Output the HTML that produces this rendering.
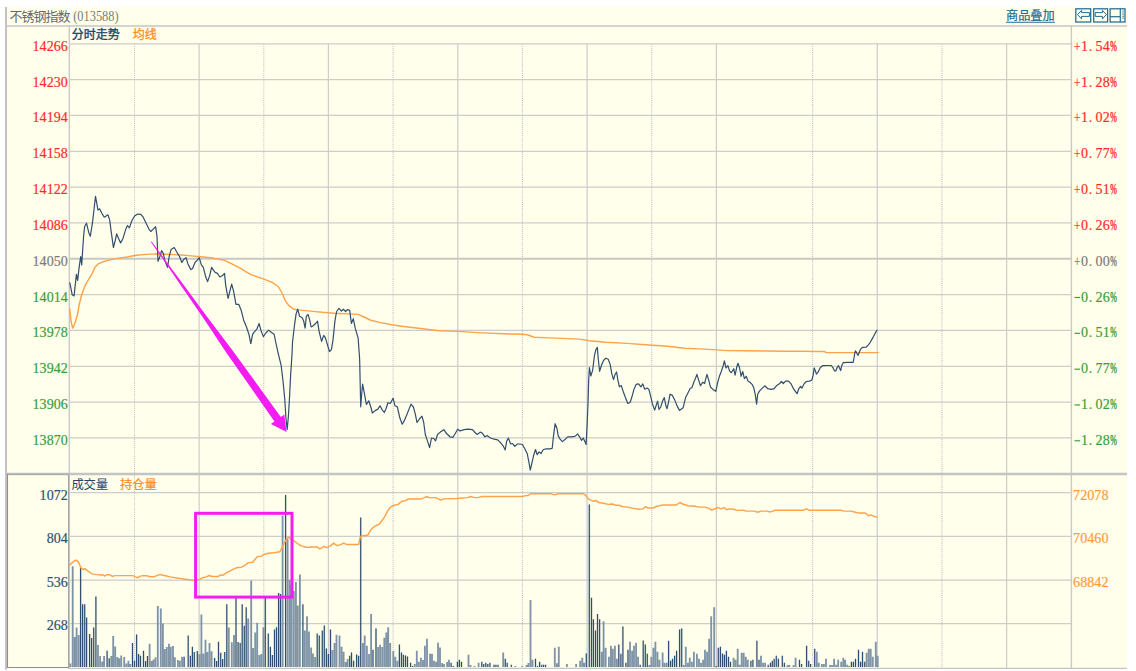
<!DOCTYPE html>
<html><head><meta charset="utf-8"><title>chart</title>
<style>html,body{margin:0;padding:0;background:#fff;overflow:hidden}body{width:1136px;height:671px;font-family:"Liberation Serif",serif}</style>
</head><body>
<svg width="1136" height="671" viewBox="0 0 1136 671" style="display:block">
<rect x="0" y="0" width="1136" height="671" fill="#ffffff"/>
<rect x="6" y="7" width="1121" height="662" fill="#FFFFEC"/>
<rect x="5.1" y="7" width="1.9" height="662.7" fill="#c5bdc1"/>
<line x1="7" y1="26.0" x2="1127" y2="26.0" stroke="#d3d3d0" stroke-width="1.8"/>
<line x1="69.9" y1="43.8" x2="1071.4" y2="43.8" stroke="#cdcdcb" stroke-width="1.25"/>
<line x1="69.9" y1="79.63" x2="1071.4" y2="79.63" stroke="#cdcdcb" stroke-width="1.25"/>
<line x1="69.9" y1="115.46" x2="1071.4" y2="115.46" stroke="#cdcdcb" stroke-width="1.25"/>
<line x1="69.9" y1="151.29" x2="1071.4" y2="151.29" stroke="#cdcdcb" stroke-width="1.25"/>
<line x1="69.9" y1="187.12" x2="1071.4" y2="187.12" stroke="#cdcdcb" stroke-width="1.25"/>
<line x1="69.9" y1="222.95" x2="1071.4" y2="222.95" stroke="#cdcdcb" stroke-width="1.25"/>
<line x1="69.9" y1="258.78" x2="1071.4" y2="258.78" stroke="#c8c8c6" stroke-width="1.9"/>
<line x1="69.9" y1="294.61" x2="1071.4" y2="294.61" stroke="#cdcdcb" stroke-width="1.25"/>
<line x1="69.9" y1="330.44" x2="1071.4" y2="330.44" stroke="#cdcdcb" stroke-width="1.25"/>
<line x1="69.9" y1="366.27" x2="1071.4" y2="366.27" stroke="#cdcdcb" stroke-width="1.25"/>
<line x1="69.9" y1="402.09999999999997" x2="1071.4" y2="402.09999999999997" stroke="#cdcdcb" stroke-width="1.25"/>
<line x1="69.9" y1="437.93" x2="1071.4" y2="437.93" stroke="#cdcdcb" stroke-width="1.25"/>
<line x1="69.9" y1="492.7" x2="1071.4" y2="492.7" stroke="#cdcdcb" stroke-width="1.25"/>
<line x1="69.9" y1="536.3" x2="1071.4" y2="536.3" stroke="#cdcdcb" stroke-width="1.25"/>
<line x1="69.9" y1="580.2" x2="1071.4" y2="580.2" stroke="#cdcdcb" stroke-width="1.25"/>
<line x1="69.9" y1="623.6" x2="1071.4" y2="623.6" stroke="#cdcdcb" stroke-width="1.25"/>
<line x1="134.5" y1="43.8" x2="134.5" y2="668.3" stroke="#c2c2ca" stroke-width="1.1" stroke-dasharray="1.04 1.04"/>
<line x1="199.1" y1="43.8" x2="199.1" y2="668.3" stroke="#cdcdcb" stroke-width="1.25"/>
<line x1="263.8" y1="43.8" x2="263.8" y2="668.3" stroke="#c2c2ca" stroke-width="1.1" stroke-dasharray="1.04 1.04"/>
<line x1="328.4" y1="43.8" x2="328.4" y2="668.3" stroke="#cdcdcb" stroke-width="1.25"/>
<line x1="393.1" y1="43.8" x2="393.1" y2="668.3" stroke="#c2c2ca" stroke-width="1.1" stroke-dasharray="1.04 1.04"/>
<line x1="457.8" y1="43.8" x2="457.8" y2="668.3" stroke="#cdcdcb" stroke-width="1.25"/>
<line x1="522.4" y1="43.8" x2="522.4" y2="668.3" stroke="#c2c2ca" stroke-width="1.1" stroke-dasharray="1.04 1.04"/>
<line x1="587.1" y1="43.8" x2="587.1" y2="668.3" stroke="#cdcdcb" stroke-width="1.25"/>
<line x1="651.7" y1="43.8" x2="651.7" y2="668.3" stroke="#c2c2ca" stroke-width="1.1" stroke-dasharray="1.04 1.04"/>
<line x1="716.4" y1="43.8" x2="716.4" y2="668.3" stroke="#cdcdcb" stroke-width="1.25"/>
<line x1="812.6" y1="43.8" x2="812.6" y2="668.3" stroke="#c2c2ca" stroke-width="1.1" stroke-dasharray="1.04 1.04"/>
<line x1="877.3" y1="43.8" x2="877.3" y2="668.3" stroke="#cdcdcb" stroke-width="1.25"/>
<line x1="941.9" y1="43.8" x2="941.9" y2="668.3" stroke="#c2c2ca" stroke-width="1.1" stroke-dasharray="1.04 1.04"/>
<line x1="1006.6" y1="43.8" x2="1006.6" y2="668.3" stroke="#cdcdcb" stroke-width="1.25"/>
<line x1="69.3" y1="26.0" x2="69.3" y2="668.3" stroke="#c9c9c8" stroke-width="1.4"/>
<line x1="1071.4" y1="26.0" x2="1071.4" y2="668.3" stroke="#c9c9c8" stroke-width="1.4"/>
<line x1="7" y1="474.0" x2="1127" y2="474.0" stroke="#c4c4c4" stroke-width="2.6"/>
<line x1="68" y1="668.3" x2="1127" y2="668.3" stroke="#c6c6c4" stroke-width="1.2"/>
<path d="M7.5 473.4 V667.5 H69" fill="none" stroke="#8e8e8e" stroke-width="1.1"/>
<path d="M7.5 474.2 H68.6 V667.5" fill="none" stroke="#a4a4a4" stroke-width="1.1"/>
<text x="9.4" y="20.7" font-family="'Liberation Sans', 'Noto Sans CJK SC', sans-serif" font-size="13" fill="#686868" text-anchor="start" textLength="61.2" lengthAdjust="spacing">不锈钢指数</text>
<text x="73.2" y="20.7" font-family="'Liberation Serif', serif" font-size="14" font-weight="normal" fill="#7c7c7c" text-anchor="start" textLength="45.4" lengthAdjust="spacingAndGlyphs">(013588)</text>
<text x="1006" y="20.2" font-family="'Liberation Sans', 'Noto Sans CJK SC', sans-serif" font-size="12.2" fill="#1f6b96" stroke="#1f6b96" stroke-width="0.2" text-anchor="start">商品叠加</text>
<line x1="1006" y1="22.3" x2="1055" y2="22.3" stroke="#1f6b96" stroke-width="1.1"/>
<text x="71.8" y="39.2" font-family="'Liberation Sans', 'Noto Sans CJK SC', sans-serif" font-size="12" fill="#234668" stroke="#234668" stroke-width="0.35" text-anchor="start">分时走势</text>
<text x="132.7" y="39.2" font-family="'Liberation Sans', 'Noto Sans CJK SC', sans-serif" font-size="12" fill="#ff8c1a" stroke="#ff8c1a" stroke-width="0.3" text-anchor="start">均线</text>
<text x="71.4" y="488.5" font-family="'Liberation Sans', 'Noto Sans CJK SC', sans-serif" font-size="12.4" fill="#234668" text-anchor="start" textLength="36.7" lengthAdjust="spacing">成交量</text>
<text x="120" y="488.5" font-family="'Liberation Sans', 'Noto Sans CJK SC', sans-serif" font-size="12.4" fill="#ff8c1a" stroke="#ff8c1a" stroke-width="0.2" text-anchor="start" textLength="36.9" lengthAdjust="spacing">持仓量</text>
<rect x="1075.8" y="8.8" width="14.9" height="13.2" fill="none" stroke="#226a94" stroke-width="1.25"/>
<rect x="1093.7" y="8.8" width="13.9" height="13.2" fill="none" stroke="#226a94" stroke-width="1.25"/>
<rect x="1110.1000000000001" y="8.8" width="14.9" height="13.2" fill="none" stroke="#226a94" stroke-width="1.25"/>
<path d="M1077.5 14.6 L1081.6 10.4 L1081.6 12.6 L1089.4 12.6 L1089.4 16.4 L1081.6 16.4 L1081.6 18.8 Z" fill="none" stroke="#226a94" stroke-width="1.0" stroke-linejoin="round"/>
<path d="M1106.4 14.6 L1102.4 10.4 L1102.4 12.6 L1095.2 12.6 L1095.2 16.4 L1102.4 16.4 L1102.4 18.8 Z" fill="none" stroke="#226a94" stroke-width="1.0" stroke-linejoin="round"/>
<line x1="1110" y1="16.7" x2="1120.0" y2="16.7" stroke="#226a94" stroke-width="1.2"/>
<line x1="1120.3" y1="9" x2="1120.3" y2="22" stroke="#226a94" stroke-width="1.2"/>
<rect x="1122.4" y="10.6" width="1.3" height="1.0" fill="#226a94"/>
<rect x="1122.4" y="12.5" width="1.3" height="1.0" fill="#226a94"/>
<rect x="1122.4" y="14.3" width="1.3" height="1.0" fill="#226a94"/>
<rect x="1122.4" y="16.2" width="1.3" height="1.0" fill="#226a94"/>
<rect x="1122.4" y="17.7" width="1.3" height="1.0" fill="#226a94"/>
<text transform="translate(35.95,50.7) scale(0.99,1)" x="0" y="0" font-family="'Liberation Serif', serif" font-size="14.2" fill="#ff2a2a" stroke="#ff2a2a" stroke-width="0.18" text-anchor="middle">1</text>
<text transform="translate(43.05,50.7) scale(0.99,1)" x="0" y="0" font-family="'Liberation Serif', serif" font-size="14.2" fill="#ff2a2a" stroke="#ff2a2a" stroke-width="0.18" text-anchor="middle">4</text>
<text transform="translate(50.15,50.7) scale(0.99,1)" x="0" y="0" font-family="'Liberation Serif', serif" font-size="14.2" fill="#ff2a2a" stroke="#ff2a2a" stroke-width="0.18" text-anchor="middle">2</text>
<text transform="translate(57.25,50.7) scale(0.99,1)" x="0" y="0" font-family="'Liberation Serif', serif" font-size="14.2" fill="#ff2a2a" stroke="#ff2a2a" stroke-width="0.18" text-anchor="middle">6</text>
<text transform="translate(64.35,50.7) scale(0.99,1)" x="0" y="0" font-family="'Liberation Serif', serif" font-size="14.2" fill="#ff2a2a" stroke="#ff2a2a" stroke-width="0.18" text-anchor="middle">6</text>
<text transform="translate(1077.22,50.7) scale(0.8,1)" x="0" y="0" font-family="'Liberation Serif', serif" font-size="14.2" fill="#ff2a2a" stroke="#ff2a2a" stroke-width="0.18" text-anchor="middle">+</text>
<text transform="translate(1084.47,50.7) scale(0.99,1)" x="0" y="0" font-family="'Liberation Serif', serif" font-size="14.2" fill="#ff2a2a" stroke="#ff2a2a" stroke-width="0.18" text-anchor="middle">1</text>
<text transform="translate(1090.50,50.7) scale(0.99,1)" x="0" y="0" font-family="'Liberation Serif', serif" font-size="14.2" fill="#ff2a2a" stroke="#ff2a2a" stroke-width="0.18" text-anchor="middle">.</text>
<text transform="translate(1098.97,50.7) scale(0.99,1)" x="0" y="0" font-family="'Liberation Serif', serif" font-size="14.2" fill="#ff2a2a" stroke="#ff2a2a" stroke-width="0.18" text-anchor="middle">5</text>
<text transform="translate(1106.22,50.7) scale(0.99,1)" x="0" y="0" font-family="'Liberation Serif', serif" font-size="14.2" fill="#ff2a2a" stroke="#ff2a2a" stroke-width="0.18" text-anchor="middle">4</text>
<text transform="translate(1113.47,50.7) scale(0.56,1)" x="0" y="0" font-family="'Liberation Serif', serif" font-size="14.2" fill="#ff2a2a" stroke="#ff2a2a" stroke-width="0.45" text-anchor="middle">%</text>
<text transform="translate(35.95,86.5) scale(0.99,1)" x="0" y="0" font-family="'Liberation Serif', serif" font-size="14.2" fill="#ff2a2a" stroke="#ff2a2a" stroke-width="0.18" text-anchor="middle">1</text>
<text transform="translate(43.05,86.5) scale(0.99,1)" x="0" y="0" font-family="'Liberation Serif', serif" font-size="14.2" fill="#ff2a2a" stroke="#ff2a2a" stroke-width="0.18" text-anchor="middle">4</text>
<text transform="translate(50.15,86.5) scale(0.99,1)" x="0" y="0" font-family="'Liberation Serif', serif" font-size="14.2" fill="#ff2a2a" stroke="#ff2a2a" stroke-width="0.18" text-anchor="middle">2</text>
<text transform="translate(57.25,86.5) scale(0.99,1)" x="0" y="0" font-family="'Liberation Serif', serif" font-size="14.2" fill="#ff2a2a" stroke="#ff2a2a" stroke-width="0.18" text-anchor="middle">3</text>
<text transform="translate(64.35,86.5) scale(0.99,1)" x="0" y="0" font-family="'Liberation Serif', serif" font-size="14.2" fill="#ff2a2a" stroke="#ff2a2a" stroke-width="0.18" text-anchor="middle">0</text>
<text transform="translate(1077.22,86.5) scale(0.8,1)" x="0" y="0" font-family="'Liberation Serif', serif" font-size="14.2" fill="#ff2a2a" stroke="#ff2a2a" stroke-width="0.18" text-anchor="middle">+</text>
<text transform="translate(1084.47,86.5) scale(0.99,1)" x="0" y="0" font-family="'Liberation Serif', serif" font-size="14.2" fill="#ff2a2a" stroke="#ff2a2a" stroke-width="0.18" text-anchor="middle">1</text>
<text transform="translate(1090.50,86.5) scale(0.99,1)" x="0" y="0" font-family="'Liberation Serif', serif" font-size="14.2" fill="#ff2a2a" stroke="#ff2a2a" stroke-width="0.18" text-anchor="middle">.</text>
<text transform="translate(1098.97,86.5) scale(0.99,1)" x="0" y="0" font-family="'Liberation Serif', serif" font-size="14.2" fill="#ff2a2a" stroke="#ff2a2a" stroke-width="0.18" text-anchor="middle">2</text>
<text transform="translate(1106.22,86.5) scale(0.99,1)" x="0" y="0" font-family="'Liberation Serif', serif" font-size="14.2" fill="#ff2a2a" stroke="#ff2a2a" stroke-width="0.18" text-anchor="middle">8</text>
<text transform="translate(1113.47,86.5) scale(0.56,1)" x="0" y="0" font-family="'Liberation Serif', serif" font-size="14.2" fill="#ff2a2a" stroke="#ff2a2a" stroke-width="0.45" text-anchor="middle">%</text>
<text transform="translate(35.95,122.4) scale(0.99,1)" x="0" y="0" font-family="'Liberation Serif', serif" font-size="14.2" fill="#ff2a2a" stroke="#ff2a2a" stroke-width="0.18" text-anchor="middle">1</text>
<text transform="translate(43.05,122.4) scale(0.99,1)" x="0" y="0" font-family="'Liberation Serif', serif" font-size="14.2" fill="#ff2a2a" stroke="#ff2a2a" stroke-width="0.18" text-anchor="middle">4</text>
<text transform="translate(50.15,122.4) scale(0.99,1)" x="0" y="0" font-family="'Liberation Serif', serif" font-size="14.2" fill="#ff2a2a" stroke="#ff2a2a" stroke-width="0.18" text-anchor="middle">1</text>
<text transform="translate(57.25,122.4) scale(0.99,1)" x="0" y="0" font-family="'Liberation Serif', serif" font-size="14.2" fill="#ff2a2a" stroke="#ff2a2a" stroke-width="0.18" text-anchor="middle">9</text>
<text transform="translate(64.35,122.4) scale(0.99,1)" x="0" y="0" font-family="'Liberation Serif', serif" font-size="14.2" fill="#ff2a2a" stroke="#ff2a2a" stroke-width="0.18" text-anchor="middle">4</text>
<text transform="translate(1077.22,122.4) scale(0.8,1)" x="0" y="0" font-family="'Liberation Serif', serif" font-size="14.2" fill="#ff2a2a" stroke="#ff2a2a" stroke-width="0.18" text-anchor="middle">+</text>
<text transform="translate(1084.47,122.4) scale(0.99,1)" x="0" y="0" font-family="'Liberation Serif', serif" font-size="14.2" fill="#ff2a2a" stroke="#ff2a2a" stroke-width="0.18" text-anchor="middle">1</text>
<text transform="translate(1090.50,122.4) scale(0.99,1)" x="0" y="0" font-family="'Liberation Serif', serif" font-size="14.2" fill="#ff2a2a" stroke="#ff2a2a" stroke-width="0.18" text-anchor="middle">.</text>
<text transform="translate(1098.97,122.4) scale(0.99,1)" x="0" y="0" font-family="'Liberation Serif', serif" font-size="14.2" fill="#ff2a2a" stroke="#ff2a2a" stroke-width="0.18" text-anchor="middle">0</text>
<text transform="translate(1106.22,122.4) scale(0.99,1)" x="0" y="0" font-family="'Liberation Serif', serif" font-size="14.2" fill="#ff2a2a" stroke="#ff2a2a" stroke-width="0.18" text-anchor="middle">2</text>
<text transform="translate(1113.47,122.4) scale(0.56,1)" x="0" y="0" font-family="'Liberation Serif', serif" font-size="14.2" fill="#ff2a2a" stroke="#ff2a2a" stroke-width="0.45" text-anchor="middle">%</text>
<text transform="translate(35.95,158.2) scale(0.99,1)" x="0" y="0" font-family="'Liberation Serif', serif" font-size="14.2" fill="#ff2a2a" stroke="#ff2a2a" stroke-width="0.18" text-anchor="middle">1</text>
<text transform="translate(43.05,158.2) scale(0.99,1)" x="0" y="0" font-family="'Liberation Serif', serif" font-size="14.2" fill="#ff2a2a" stroke="#ff2a2a" stroke-width="0.18" text-anchor="middle">4</text>
<text transform="translate(50.15,158.2) scale(0.99,1)" x="0" y="0" font-family="'Liberation Serif', serif" font-size="14.2" fill="#ff2a2a" stroke="#ff2a2a" stroke-width="0.18" text-anchor="middle">1</text>
<text transform="translate(57.25,158.2) scale(0.99,1)" x="0" y="0" font-family="'Liberation Serif', serif" font-size="14.2" fill="#ff2a2a" stroke="#ff2a2a" stroke-width="0.18" text-anchor="middle">5</text>
<text transform="translate(64.35,158.2) scale(0.99,1)" x="0" y="0" font-family="'Liberation Serif', serif" font-size="14.2" fill="#ff2a2a" stroke="#ff2a2a" stroke-width="0.18" text-anchor="middle">8</text>
<text transform="translate(1077.22,158.2) scale(0.8,1)" x="0" y="0" font-family="'Liberation Serif', serif" font-size="14.2" fill="#ff2a2a" stroke="#ff2a2a" stroke-width="0.18" text-anchor="middle">+</text>
<text transform="translate(1084.47,158.2) scale(0.99,1)" x="0" y="0" font-family="'Liberation Serif', serif" font-size="14.2" fill="#ff2a2a" stroke="#ff2a2a" stroke-width="0.18" text-anchor="middle">0</text>
<text transform="translate(1090.50,158.2) scale(0.99,1)" x="0" y="0" font-family="'Liberation Serif', serif" font-size="14.2" fill="#ff2a2a" stroke="#ff2a2a" stroke-width="0.18" text-anchor="middle">.</text>
<text transform="translate(1098.97,158.2) scale(0.99,1)" x="0" y="0" font-family="'Liberation Serif', serif" font-size="14.2" fill="#ff2a2a" stroke="#ff2a2a" stroke-width="0.18" text-anchor="middle">7</text>
<text transform="translate(1106.22,158.2) scale(0.99,1)" x="0" y="0" font-family="'Liberation Serif', serif" font-size="14.2" fill="#ff2a2a" stroke="#ff2a2a" stroke-width="0.18" text-anchor="middle">7</text>
<text transform="translate(1113.47,158.2) scale(0.56,1)" x="0" y="0" font-family="'Liberation Serif', serif" font-size="14.2" fill="#ff2a2a" stroke="#ff2a2a" stroke-width="0.45" text-anchor="middle">%</text>
<text transform="translate(35.95,194.0) scale(0.99,1)" x="0" y="0" font-family="'Liberation Serif', serif" font-size="14.2" fill="#ff2a2a" stroke="#ff2a2a" stroke-width="0.18" text-anchor="middle">1</text>
<text transform="translate(43.05,194.0) scale(0.99,1)" x="0" y="0" font-family="'Liberation Serif', serif" font-size="14.2" fill="#ff2a2a" stroke="#ff2a2a" stroke-width="0.18" text-anchor="middle">4</text>
<text transform="translate(50.15,194.0) scale(0.99,1)" x="0" y="0" font-family="'Liberation Serif', serif" font-size="14.2" fill="#ff2a2a" stroke="#ff2a2a" stroke-width="0.18" text-anchor="middle">1</text>
<text transform="translate(57.25,194.0) scale(0.99,1)" x="0" y="0" font-family="'Liberation Serif', serif" font-size="14.2" fill="#ff2a2a" stroke="#ff2a2a" stroke-width="0.18" text-anchor="middle">2</text>
<text transform="translate(64.35,194.0) scale(0.99,1)" x="0" y="0" font-family="'Liberation Serif', serif" font-size="14.2" fill="#ff2a2a" stroke="#ff2a2a" stroke-width="0.18" text-anchor="middle">2</text>
<text transform="translate(1077.22,194.0) scale(0.8,1)" x="0" y="0" font-family="'Liberation Serif', serif" font-size="14.2" fill="#ff2a2a" stroke="#ff2a2a" stroke-width="0.18" text-anchor="middle">+</text>
<text transform="translate(1084.47,194.0) scale(0.99,1)" x="0" y="0" font-family="'Liberation Serif', serif" font-size="14.2" fill="#ff2a2a" stroke="#ff2a2a" stroke-width="0.18" text-anchor="middle">0</text>
<text transform="translate(1090.50,194.0) scale(0.99,1)" x="0" y="0" font-family="'Liberation Serif', serif" font-size="14.2" fill="#ff2a2a" stroke="#ff2a2a" stroke-width="0.18" text-anchor="middle">.</text>
<text transform="translate(1098.97,194.0) scale(0.99,1)" x="0" y="0" font-family="'Liberation Serif', serif" font-size="14.2" fill="#ff2a2a" stroke="#ff2a2a" stroke-width="0.18" text-anchor="middle">5</text>
<text transform="translate(1106.22,194.0) scale(0.99,1)" x="0" y="0" font-family="'Liberation Serif', serif" font-size="14.2" fill="#ff2a2a" stroke="#ff2a2a" stroke-width="0.18" text-anchor="middle">1</text>
<text transform="translate(1113.47,194.0) scale(0.56,1)" x="0" y="0" font-family="'Liberation Serif', serif" font-size="14.2" fill="#ff2a2a" stroke="#ff2a2a" stroke-width="0.45" text-anchor="middle">%</text>
<text transform="translate(35.95,229.8) scale(0.99,1)" x="0" y="0" font-family="'Liberation Serif', serif" font-size="14.2" fill="#ff2a2a" stroke="#ff2a2a" stroke-width="0.18" text-anchor="middle">1</text>
<text transform="translate(43.05,229.8) scale(0.99,1)" x="0" y="0" font-family="'Liberation Serif', serif" font-size="14.2" fill="#ff2a2a" stroke="#ff2a2a" stroke-width="0.18" text-anchor="middle">4</text>
<text transform="translate(50.15,229.8) scale(0.99,1)" x="0" y="0" font-family="'Liberation Serif', serif" font-size="14.2" fill="#ff2a2a" stroke="#ff2a2a" stroke-width="0.18" text-anchor="middle">0</text>
<text transform="translate(57.25,229.8) scale(0.99,1)" x="0" y="0" font-family="'Liberation Serif', serif" font-size="14.2" fill="#ff2a2a" stroke="#ff2a2a" stroke-width="0.18" text-anchor="middle">8</text>
<text transform="translate(64.35,229.8) scale(0.99,1)" x="0" y="0" font-family="'Liberation Serif', serif" font-size="14.2" fill="#ff2a2a" stroke="#ff2a2a" stroke-width="0.18" text-anchor="middle">6</text>
<text transform="translate(1077.22,229.8) scale(0.8,1)" x="0" y="0" font-family="'Liberation Serif', serif" font-size="14.2" fill="#ff2a2a" stroke="#ff2a2a" stroke-width="0.18" text-anchor="middle">+</text>
<text transform="translate(1084.47,229.8) scale(0.99,1)" x="0" y="0" font-family="'Liberation Serif', serif" font-size="14.2" fill="#ff2a2a" stroke="#ff2a2a" stroke-width="0.18" text-anchor="middle">0</text>
<text transform="translate(1090.50,229.8) scale(0.99,1)" x="0" y="0" font-family="'Liberation Serif', serif" font-size="14.2" fill="#ff2a2a" stroke="#ff2a2a" stroke-width="0.18" text-anchor="middle">.</text>
<text transform="translate(1098.97,229.8) scale(0.99,1)" x="0" y="0" font-family="'Liberation Serif', serif" font-size="14.2" fill="#ff2a2a" stroke="#ff2a2a" stroke-width="0.18" text-anchor="middle">2</text>
<text transform="translate(1106.22,229.8) scale(0.99,1)" x="0" y="0" font-family="'Liberation Serif', serif" font-size="14.2" fill="#ff2a2a" stroke="#ff2a2a" stroke-width="0.18" text-anchor="middle">6</text>
<text transform="translate(1113.47,229.8) scale(0.56,1)" x="0" y="0" font-family="'Liberation Serif', serif" font-size="14.2" fill="#ff2a2a" stroke="#ff2a2a" stroke-width="0.45" text-anchor="middle">%</text>
<text transform="translate(35.95,265.7) scale(0.99,1)" x="0" y="0" font-family="'Liberation Serif', serif" font-size="14.2" fill="#7a7a7a" stroke="#7a7a7a" stroke-width="0.18" text-anchor="middle">1</text>
<text transform="translate(43.05,265.7) scale(0.99,1)" x="0" y="0" font-family="'Liberation Serif', serif" font-size="14.2" fill="#7a7a7a" stroke="#7a7a7a" stroke-width="0.18" text-anchor="middle">4</text>
<text transform="translate(50.15,265.7) scale(0.99,1)" x="0" y="0" font-family="'Liberation Serif', serif" font-size="14.2" fill="#7a7a7a" stroke="#7a7a7a" stroke-width="0.18" text-anchor="middle">0</text>
<text transform="translate(57.25,265.7) scale(0.99,1)" x="0" y="0" font-family="'Liberation Serif', serif" font-size="14.2" fill="#7a7a7a" stroke="#7a7a7a" stroke-width="0.18" text-anchor="middle">5</text>
<text transform="translate(64.35,265.7) scale(0.99,1)" x="0" y="0" font-family="'Liberation Serif', serif" font-size="14.2" fill="#7a7a7a" stroke="#7a7a7a" stroke-width="0.18" text-anchor="middle">0</text>
<text transform="translate(1077.22,265.7) scale(0.8,1)" x="0" y="0" font-family="'Liberation Serif', serif" font-size="14.2" fill="#7a7a7a" stroke="#7a7a7a" stroke-width="0.18" text-anchor="middle">+</text>
<text transform="translate(1084.47,265.7) scale(0.99,1)" x="0" y="0" font-family="'Liberation Serif', serif" font-size="14.2" fill="#7a7a7a" stroke="#7a7a7a" stroke-width="0.18" text-anchor="middle">0</text>
<text transform="translate(1090.50,265.7) scale(0.99,1)" x="0" y="0" font-family="'Liberation Serif', serif" font-size="14.2" fill="#7a7a7a" stroke="#7a7a7a" stroke-width="0.18" text-anchor="middle">.</text>
<text transform="translate(1098.97,265.7) scale(0.99,1)" x="0" y="0" font-family="'Liberation Serif', serif" font-size="14.2" fill="#7a7a7a" stroke="#7a7a7a" stroke-width="0.18" text-anchor="middle">0</text>
<text transform="translate(1106.22,265.7) scale(0.99,1)" x="0" y="0" font-family="'Liberation Serif', serif" font-size="14.2" fill="#7a7a7a" stroke="#7a7a7a" stroke-width="0.18" text-anchor="middle">0</text>
<text transform="translate(1113.47,265.7) scale(0.56,1)" x="0" y="0" font-family="'Liberation Serif', serif" font-size="14.2" fill="#7a7a7a" stroke="#7a7a7a" stroke-width="0.45" text-anchor="middle">%</text>
<text transform="translate(35.95,301.5) scale(0.99,1)" x="0" y="0" font-family="'Liberation Serif', serif" font-size="14.2" fill="#36a036" stroke="#36a036" stroke-width="0.18" text-anchor="middle">1</text>
<text transform="translate(43.05,301.5) scale(0.99,1)" x="0" y="0" font-family="'Liberation Serif', serif" font-size="14.2" fill="#36a036" stroke="#36a036" stroke-width="0.18" text-anchor="middle">4</text>
<text transform="translate(50.15,301.5) scale(0.99,1)" x="0" y="0" font-family="'Liberation Serif', serif" font-size="14.2" fill="#36a036" stroke="#36a036" stroke-width="0.18" text-anchor="middle">0</text>
<text transform="translate(57.25,301.5) scale(0.99,1)" x="0" y="0" font-family="'Liberation Serif', serif" font-size="14.2" fill="#36a036" stroke="#36a036" stroke-width="0.18" text-anchor="middle">1</text>
<text transform="translate(64.35,301.5) scale(0.99,1)" x="0" y="0" font-family="'Liberation Serif', serif" font-size="14.2" fill="#36a036" stroke="#36a036" stroke-width="0.18" text-anchor="middle">4</text>
<rect x="1074.50" y="296.90" width="5.65" height="1.15" fill="#36a036"/>
<text transform="translate(1084.47,301.5) scale(0.99,1)" x="0" y="0" font-family="'Liberation Serif', serif" font-size="14.2" fill="#36a036" stroke="#36a036" stroke-width="0.18" text-anchor="middle">0</text>
<text transform="translate(1090.50,301.5) scale(0.99,1)" x="0" y="0" font-family="'Liberation Serif', serif" font-size="14.2" fill="#36a036" stroke="#36a036" stroke-width="0.18" text-anchor="middle">.</text>
<text transform="translate(1098.97,301.5) scale(0.99,1)" x="0" y="0" font-family="'Liberation Serif', serif" font-size="14.2" fill="#36a036" stroke="#36a036" stroke-width="0.18" text-anchor="middle">2</text>
<text transform="translate(1106.22,301.5) scale(0.99,1)" x="0" y="0" font-family="'Liberation Serif', serif" font-size="14.2" fill="#36a036" stroke="#36a036" stroke-width="0.18" text-anchor="middle">6</text>
<text transform="translate(1113.47,301.5) scale(0.56,1)" x="0" y="0" font-family="'Liberation Serif', serif" font-size="14.2" fill="#36a036" stroke="#36a036" stroke-width="0.45" text-anchor="middle">%</text>
<text transform="translate(35.95,337.3) scale(0.99,1)" x="0" y="0" font-family="'Liberation Serif', serif" font-size="14.2" fill="#36a036" stroke="#36a036" stroke-width="0.18" text-anchor="middle">1</text>
<text transform="translate(43.05,337.3) scale(0.99,1)" x="0" y="0" font-family="'Liberation Serif', serif" font-size="14.2" fill="#36a036" stroke="#36a036" stroke-width="0.18" text-anchor="middle">3</text>
<text transform="translate(50.15,337.3) scale(0.99,1)" x="0" y="0" font-family="'Liberation Serif', serif" font-size="14.2" fill="#36a036" stroke="#36a036" stroke-width="0.18" text-anchor="middle">9</text>
<text transform="translate(57.25,337.3) scale(0.99,1)" x="0" y="0" font-family="'Liberation Serif', serif" font-size="14.2" fill="#36a036" stroke="#36a036" stroke-width="0.18" text-anchor="middle">7</text>
<text transform="translate(64.35,337.3) scale(0.99,1)" x="0" y="0" font-family="'Liberation Serif', serif" font-size="14.2" fill="#36a036" stroke="#36a036" stroke-width="0.18" text-anchor="middle">8</text>
<rect x="1074.50" y="332.70" width="5.65" height="1.15" fill="#36a036"/>
<text transform="translate(1084.47,337.3) scale(0.99,1)" x="0" y="0" font-family="'Liberation Serif', serif" font-size="14.2" fill="#36a036" stroke="#36a036" stroke-width="0.18" text-anchor="middle">0</text>
<text transform="translate(1090.50,337.3) scale(0.99,1)" x="0" y="0" font-family="'Liberation Serif', serif" font-size="14.2" fill="#36a036" stroke="#36a036" stroke-width="0.18" text-anchor="middle">.</text>
<text transform="translate(1098.97,337.3) scale(0.99,1)" x="0" y="0" font-family="'Liberation Serif', serif" font-size="14.2" fill="#36a036" stroke="#36a036" stroke-width="0.18" text-anchor="middle">5</text>
<text transform="translate(1106.22,337.3) scale(0.99,1)" x="0" y="0" font-family="'Liberation Serif', serif" font-size="14.2" fill="#36a036" stroke="#36a036" stroke-width="0.18" text-anchor="middle">1</text>
<text transform="translate(1113.47,337.3) scale(0.56,1)" x="0" y="0" font-family="'Liberation Serif', serif" font-size="14.2" fill="#36a036" stroke="#36a036" stroke-width="0.45" text-anchor="middle">%</text>
<text transform="translate(35.95,373.2) scale(0.99,1)" x="0" y="0" font-family="'Liberation Serif', serif" font-size="14.2" fill="#36a036" stroke="#36a036" stroke-width="0.18" text-anchor="middle">1</text>
<text transform="translate(43.05,373.2) scale(0.99,1)" x="0" y="0" font-family="'Liberation Serif', serif" font-size="14.2" fill="#36a036" stroke="#36a036" stroke-width="0.18" text-anchor="middle">3</text>
<text transform="translate(50.15,373.2) scale(0.99,1)" x="0" y="0" font-family="'Liberation Serif', serif" font-size="14.2" fill="#36a036" stroke="#36a036" stroke-width="0.18" text-anchor="middle">9</text>
<text transform="translate(57.25,373.2) scale(0.99,1)" x="0" y="0" font-family="'Liberation Serif', serif" font-size="14.2" fill="#36a036" stroke="#36a036" stroke-width="0.18" text-anchor="middle">4</text>
<text transform="translate(64.35,373.2) scale(0.99,1)" x="0" y="0" font-family="'Liberation Serif', serif" font-size="14.2" fill="#36a036" stroke="#36a036" stroke-width="0.18" text-anchor="middle">2</text>
<rect x="1074.50" y="368.60" width="5.65" height="1.15" fill="#36a036"/>
<text transform="translate(1084.47,373.2) scale(0.99,1)" x="0" y="0" font-family="'Liberation Serif', serif" font-size="14.2" fill="#36a036" stroke="#36a036" stroke-width="0.18" text-anchor="middle">0</text>
<text transform="translate(1090.50,373.2) scale(0.99,1)" x="0" y="0" font-family="'Liberation Serif', serif" font-size="14.2" fill="#36a036" stroke="#36a036" stroke-width="0.18" text-anchor="middle">.</text>
<text transform="translate(1098.97,373.2) scale(0.99,1)" x="0" y="0" font-family="'Liberation Serif', serif" font-size="14.2" fill="#36a036" stroke="#36a036" stroke-width="0.18" text-anchor="middle">7</text>
<text transform="translate(1106.22,373.2) scale(0.99,1)" x="0" y="0" font-family="'Liberation Serif', serif" font-size="14.2" fill="#36a036" stroke="#36a036" stroke-width="0.18" text-anchor="middle">7</text>
<text transform="translate(1113.47,373.2) scale(0.56,1)" x="0" y="0" font-family="'Liberation Serif', serif" font-size="14.2" fill="#36a036" stroke="#36a036" stroke-width="0.45" text-anchor="middle">%</text>
<text transform="translate(35.95,409.0) scale(0.99,1)" x="0" y="0" font-family="'Liberation Serif', serif" font-size="14.2" fill="#36a036" stroke="#36a036" stroke-width="0.18" text-anchor="middle">1</text>
<text transform="translate(43.05,409.0) scale(0.99,1)" x="0" y="0" font-family="'Liberation Serif', serif" font-size="14.2" fill="#36a036" stroke="#36a036" stroke-width="0.18" text-anchor="middle">3</text>
<text transform="translate(50.15,409.0) scale(0.99,1)" x="0" y="0" font-family="'Liberation Serif', serif" font-size="14.2" fill="#36a036" stroke="#36a036" stroke-width="0.18" text-anchor="middle">9</text>
<text transform="translate(57.25,409.0) scale(0.99,1)" x="0" y="0" font-family="'Liberation Serif', serif" font-size="14.2" fill="#36a036" stroke="#36a036" stroke-width="0.18" text-anchor="middle">0</text>
<text transform="translate(64.35,409.0) scale(0.99,1)" x="0" y="0" font-family="'Liberation Serif', serif" font-size="14.2" fill="#36a036" stroke="#36a036" stroke-width="0.18" text-anchor="middle">6</text>
<rect x="1074.50" y="404.40" width="5.65" height="1.15" fill="#36a036"/>
<text transform="translate(1084.47,409.0) scale(0.99,1)" x="0" y="0" font-family="'Liberation Serif', serif" font-size="14.2" fill="#36a036" stroke="#36a036" stroke-width="0.18" text-anchor="middle">1</text>
<text transform="translate(1090.50,409.0) scale(0.99,1)" x="0" y="0" font-family="'Liberation Serif', serif" font-size="14.2" fill="#36a036" stroke="#36a036" stroke-width="0.18" text-anchor="middle">.</text>
<text transform="translate(1098.97,409.0) scale(0.99,1)" x="0" y="0" font-family="'Liberation Serif', serif" font-size="14.2" fill="#36a036" stroke="#36a036" stroke-width="0.18" text-anchor="middle">0</text>
<text transform="translate(1106.22,409.0) scale(0.99,1)" x="0" y="0" font-family="'Liberation Serif', serif" font-size="14.2" fill="#36a036" stroke="#36a036" stroke-width="0.18" text-anchor="middle">2</text>
<text transform="translate(1113.47,409.0) scale(0.56,1)" x="0" y="0" font-family="'Liberation Serif', serif" font-size="14.2" fill="#36a036" stroke="#36a036" stroke-width="0.45" text-anchor="middle">%</text>
<text transform="translate(35.95,444.8) scale(0.99,1)" x="0" y="0" font-family="'Liberation Serif', serif" font-size="14.2" fill="#36a036" stroke="#36a036" stroke-width="0.18" text-anchor="middle">1</text>
<text transform="translate(43.05,444.8) scale(0.99,1)" x="0" y="0" font-family="'Liberation Serif', serif" font-size="14.2" fill="#36a036" stroke="#36a036" stroke-width="0.18" text-anchor="middle">3</text>
<text transform="translate(50.15,444.8) scale(0.99,1)" x="0" y="0" font-family="'Liberation Serif', serif" font-size="14.2" fill="#36a036" stroke="#36a036" stroke-width="0.18" text-anchor="middle">8</text>
<text transform="translate(57.25,444.8) scale(0.99,1)" x="0" y="0" font-family="'Liberation Serif', serif" font-size="14.2" fill="#36a036" stroke="#36a036" stroke-width="0.18" text-anchor="middle">7</text>
<text transform="translate(64.35,444.8) scale(0.99,1)" x="0" y="0" font-family="'Liberation Serif', serif" font-size="14.2" fill="#36a036" stroke="#36a036" stroke-width="0.18" text-anchor="middle">0</text>
<rect x="1074.50" y="440.20" width="5.65" height="1.15" fill="#36a036"/>
<text transform="translate(1084.47,444.8) scale(0.99,1)" x="0" y="0" font-family="'Liberation Serif', serif" font-size="14.2" fill="#36a036" stroke="#36a036" stroke-width="0.18" text-anchor="middle">1</text>
<text transform="translate(1090.50,444.8) scale(0.99,1)" x="0" y="0" font-family="'Liberation Serif', serif" font-size="14.2" fill="#36a036" stroke="#36a036" stroke-width="0.18" text-anchor="middle">.</text>
<text transform="translate(1098.97,444.8) scale(0.99,1)" x="0" y="0" font-family="'Liberation Serif', serif" font-size="14.2" fill="#36a036" stroke="#36a036" stroke-width="0.18" text-anchor="middle">2</text>
<text transform="translate(1106.22,444.8) scale(0.99,1)" x="0" y="0" font-family="'Liberation Serif', serif" font-size="14.2" fill="#36a036" stroke="#36a036" stroke-width="0.18" text-anchor="middle">8</text>
<text transform="translate(1113.47,444.8) scale(0.56,1)" x="0" y="0" font-family="'Liberation Serif', serif" font-size="14.2" fill="#36a036" stroke="#36a036" stroke-width="0.45" text-anchor="middle">%</text>
<text transform="translate(43.05,499.5) scale(1.03,1)" x="0" y="0" font-family="'Liberation Serif', serif" font-size="13.7" fill="#2f5070" stroke="#2f5070" stroke-width="0.18" text-anchor="middle">1</text>
<text transform="translate(50.15,499.5) scale(1.03,1)" x="0" y="0" font-family="'Liberation Serif', serif" font-size="13.7" fill="#2f5070" stroke="#2f5070" stroke-width="0.18" text-anchor="middle">0</text>
<text transform="translate(57.25,499.5) scale(1.03,1)" x="0" y="0" font-family="'Liberation Serif', serif" font-size="13.7" fill="#2f5070" stroke="#2f5070" stroke-width="0.18" text-anchor="middle">7</text>
<text transform="translate(64.35,499.5) scale(1.03,1)" x="0" y="0" font-family="'Liberation Serif', serif" font-size="13.7" fill="#2f5070" stroke="#2f5070" stroke-width="0.18" text-anchor="middle">2</text>
<text transform="translate(50.15,543.1) scale(1.03,1)" x="0" y="0" font-family="'Liberation Serif', serif" font-size="13.7" fill="#2f5070" stroke="#2f5070" stroke-width="0.18" text-anchor="middle">8</text>
<text transform="translate(57.25,543.1) scale(1.03,1)" x="0" y="0" font-family="'Liberation Serif', serif" font-size="13.7" fill="#2f5070" stroke="#2f5070" stroke-width="0.18" text-anchor="middle">0</text>
<text transform="translate(64.35,543.1) scale(1.03,1)" x="0" y="0" font-family="'Liberation Serif', serif" font-size="13.7" fill="#2f5070" stroke="#2f5070" stroke-width="0.18" text-anchor="middle">4</text>
<text transform="translate(50.15,587.0) scale(1.03,1)" x="0" y="0" font-family="'Liberation Serif', serif" font-size="13.7" fill="#2f5070" stroke="#2f5070" stroke-width="0.18" text-anchor="middle">5</text>
<text transform="translate(57.25,587.0) scale(1.03,1)" x="0" y="0" font-family="'Liberation Serif', serif" font-size="13.7" fill="#2f5070" stroke="#2f5070" stroke-width="0.18" text-anchor="middle">3</text>
<text transform="translate(64.35,587.0) scale(1.03,1)" x="0" y="0" font-family="'Liberation Serif', serif" font-size="13.7" fill="#2f5070" stroke="#2f5070" stroke-width="0.18" text-anchor="middle">6</text>
<text transform="translate(50.15,630.4) scale(1.03,1)" x="0" y="0" font-family="'Liberation Serif', serif" font-size="13.7" fill="#2f5070" stroke="#2f5070" stroke-width="0.18" text-anchor="middle">2</text>
<text transform="translate(57.25,630.4) scale(1.03,1)" x="0" y="0" font-family="'Liberation Serif', serif" font-size="13.7" fill="#2f5070" stroke="#2f5070" stroke-width="0.18" text-anchor="middle">6</text>
<text transform="translate(64.35,630.4) scale(1.03,1)" x="0" y="0" font-family="'Liberation Serif', serif" font-size="13.7" fill="#2f5070" stroke="#2f5070" stroke-width="0.18" text-anchor="middle">8</text>
<text transform="translate(1076.55,499.5) scale(1.03,1)" x="0" y="0" font-family="'Liberation Serif', serif" font-size="13.7" fill="#ff9a3c" stroke="#ff9a3c" stroke-width="0.18" text-anchor="middle">7</text>
<text transform="translate(1083.65,499.5) scale(1.03,1)" x="0" y="0" font-family="'Liberation Serif', serif" font-size="13.7" fill="#ff9a3c" stroke="#ff9a3c" stroke-width="0.18" text-anchor="middle">2</text>
<text transform="translate(1090.75,499.5) scale(1.03,1)" x="0" y="0" font-family="'Liberation Serif', serif" font-size="13.7" fill="#ff9a3c" stroke="#ff9a3c" stroke-width="0.18" text-anchor="middle">0</text>
<text transform="translate(1097.85,499.5) scale(1.03,1)" x="0" y="0" font-family="'Liberation Serif', serif" font-size="13.7" fill="#ff9a3c" stroke="#ff9a3c" stroke-width="0.18" text-anchor="middle">7</text>
<text transform="translate(1104.95,499.5) scale(1.03,1)" x="0" y="0" font-family="'Liberation Serif', serif" font-size="13.7" fill="#ff9a3c" stroke="#ff9a3c" stroke-width="0.18" text-anchor="middle">8</text>
<text transform="translate(1076.55,543.1) scale(1.03,1)" x="0" y="0" font-family="'Liberation Serif', serif" font-size="13.7" fill="#ff9a3c" stroke="#ff9a3c" stroke-width="0.18" text-anchor="middle">7</text>
<text transform="translate(1083.65,543.1) scale(1.03,1)" x="0" y="0" font-family="'Liberation Serif', serif" font-size="13.7" fill="#ff9a3c" stroke="#ff9a3c" stroke-width="0.18" text-anchor="middle">0</text>
<text transform="translate(1090.75,543.1) scale(1.03,1)" x="0" y="0" font-family="'Liberation Serif', serif" font-size="13.7" fill="#ff9a3c" stroke="#ff9a3c" stroke-width="0.18" text-anchor="middle">4</text>
<text transform="translate(1097.85,543.1) scale(1.03,1)" x="0" y="0" font-family="'Liberation Serif', serif" font-size="13.7" fill="#ff9a3c" stroke="#ff9a3c" stroke-width="0.18" text-anchor="middle">6</text>
<text transform="translate(1104.95,543.1) scale(1.03,1)" x="0" y="0" font-family="'Liberation Serif', serif" font-size="13.7" fill="#ff9a3c" stroke="#ff9a3c" stroke-width="0.18" text-anchor="middle">0</text>
<text transform="translate(1076.55,587.0) scale(1.03,1)" x="0" y="0" font-family="'Liberation Serif', serif" font-size="13.7" fill="#ff9a3c" stroke="#ff9a3c" stroke-width="0.18" text-anchor="middle">6</text>
<text transform="translate(1083.65,587.0) scale(1.03,1)" x="0" y="0" font-family="'Liberation Serif', serif" font-size="13.7" fill="#ff9a3c" stroke="#ff9a3c" stroke-width="0.18" text-anchor="middle">8</text>
<text transform="translate(1090.75,587.0) scale(1.03,1)" x="0" y="0" font-family="'Liberation Serif', serif" font-size="13.7" fill="#ff9a3c" stroke="#ff9a3c" stroke-width="0.18" text-anchor="middle">8</text>
<text transform="translate(1097.85,587.0) scale(1.03,1)" x="0" y="0" font-family="'Liberation Serif', serif" font-size="13.7" fill="#ff9a3c" stroke="#ff9a3c" stroke-width="0.18" text-anchor="middle">4</text>
<text transform="translate(1104.95,587.0) scale(1.03,1)" x="0" y="0" font-family="'Liberation Serif', serif" font-size="13.7" fill="#ff9a3c" stroke="#ff9a3c" stroke-width="0.18" text-anchor="middle">2</text>
<path d="M70.4 666.9V663.5M72.7 666.9V566.2M74.7 666.9V637.0M76.6 666.9V627.5M78.7 666.9V634.9M98.0 666.9V645.0M100.1 666.9V656.1M102.2 666.9V661.4M104.1 666.9V656.1M111.3 666.9V656.1M113.2 666.9V636.0M115.2 666.9V646.6M117.3 666.9V657.1M119.2 666.9V658.2M121.2 666.9V655.6M124.2 666.9V657.1M126.3 666.9V663.5M128.4 666.9V660.8M130.3 666.9V664.0M149.6 666.9V643.7M151.6 666.9V661.0M153.5 666.9V659.5M155.5 666.9V657.3M157.8 666.9V606.1M160.8 666.9V608.4M162.9 666.9V623.4M164.8 666.9V649.0M166.8 666.9V647.0M168.9 666.9V643.7M170.8 666.9V646.7M173.0 666.9V646.0M174.9 666.9V657.3M177.9 666.9V660.0M179.9 666.9V660.7M182.1 666.9V656.8M199.4 666.9V654.3M201.4 666.9V614.4M203.4 666.9V653.5M205.5 666.9V639.7M207.4 666.9V652.0M209.5 666.9V643.0M211.6 666.9V651.3M228.8 666.9V627.5M231.8 666.9V642.2M234.0 666.9V635.0M248.2 666.9V618.5M251.2 666.9V580.5M253.1 666.9V647.9M255.2 666.9V632.4M257.2 666.9V622.7M259.3 666.9V655.0M261.3 666.9V654.0M263.4 666.9V627.2M282.6 666.9V515.8M287.6 666.9V539.0M289.7 666.9V579.8M291.6 666.9V585.0M293.8 666.9V591.1M295.9 666.9V582.0M297.8 666.9V605.4M299.9 666.9V574.5M304.9 666.9V630.5M307.0 666.9V616.3M309.0 666.9V631.4M311.1 666.9V647.5M313.0 666.9V653.5M315.1 666.9V657.0M332.4 666.9V650.1M334.5 666.9V643.0M336.5 666.9V634.7M339.5 666.9V635.5M341.6 666.9V646.7M343.6 666.9V651.7M345.7 666.9V662.1M347.6 666.9V659.1M362.8 666.9V643.0M364.7 666.9V635.5M366.9 666.9V645.7M369.0 666.9V654.0M371.1 666.9V614.1M378.1 666.9V647.0M380.1 666.9V644.8M382.2 666.9V647.0M384.3 666.9V637.7M386.3 666.9V632.4M388.2 666.9V627.2M390.2 666.9V643.0M393.3 666.9V651.0M395.3 666.9V656.8M397.4 666.9V660.7M414.7 666.9V664.0M416.8 666.9V650.8M418.8 666.9V661.8M420.9 666.9V657.7M423.0 666.9V660.0M424.9 666.9V645.7M427.0 666.9V638.8M430.1 666.9V653.8M432.0 666.9V653.8M434.0 666.9V660.7M436.1 666.9V661.8M438.0 666.9V642.7M440.0 666.9V647.5M442.1 666.9V663.0M444.0 666.9V664.0M447.1 666.9V662.1M449.0 666.9V659.8M468.5 666.9V654.7M470.5 666.9V665.1M474.6 666.9V666.0M478.6 666.9V662.8M503.2 666.9V652.5M515.3 666.9V665.9M522.3 666.9V665.9M526.5 666.9V665.1M528.4 666.9V663.0M530.5 666.9V600.1M532.5 666.9V659.8M554.8 666.9V647.8M556.9 666.9V663.3M558.8 666.9V646.7M566.9 666.9V664.0M576.1 666.9V664.0M580.2 666.9V660.7M582.3 666.9V657.7M584.2 666.9V662.8M601.7 666.9V651.7M603.6 666.9V621.2M605.7 666.9V647.8M608.9 666.9V656.8M610.9 666.9V645.7M612.8 666.9V648.7M614.9 666.9V645.7M616.9 666.9V658.8M630.0 666.9V641.8M632.1 666.9V650.8M634.0 666.9V645.7M636.1 666.9V642.7M638.1 666.9V656.8M649.4 666.9V665.1M651.3 666.9V656.8M653.4 666.9V647.8M655.4 666.9V641.8M657.5 666.9V651.7M659.5 666.9V659.8M662.6 666.9V652.5M664.6 666.9V662.8M666.7 666.9V662.8M683.8 666.9V665.1M685.8 666.9V646.7M687.9 666.9V662.8M689.8 666.9V657.7M691.9 666.9V661.8M693.9 666.9V651.7M696.9 666.9V653.8M699.0 666.9V658.8M701.0 666.9V662.8M703.1 666.9V659.8M705.0 666.9V649.8M707.1 666.9V651.7M709.1 666.9V638.8M711.2 666.9V616.3M714.2 666.9V607.2M733.6 666.9V657.7M735.6 666.9V659.8M737.7 666.9V648.7M739.6 666.9V664.8M741.7 666.9V652.8M743.7 666.9V652.8M745.8 666.9V656.8M747.8 666.9V659.8M761.0 666.9V655.8M763.1 666.9V662.8M765.1 666.9V662.8M787.5 666.9V665.1M789.4 666.9V665.1M793.5 666.9V665.1M795.6 666.9V657.7M816.8 666.9V651.7M818.8 666.9V662.8M821.9 666.9V664.0M823.9 666.9V664.0M826.0 666.9V658.8M830.0 666.9V665.1M832.0 666.9V665.1M834.1 666.9V658.8M836.2 666.9V664.8M838.2 666.9V659.8M841.2 666.9V661.8M843.3 666.9V657.7M845.2 666.9V659.8M847.3 666.9V664.8M849.3 666.9V665.9M866.6 666.9V652.8M868.7 666.9V648.7M870.7 666.9V648.7M872.8 666.9V656.8M875.8 666.9V641.8M877.7 666.9V655.8" stroke="#7f94a8" stroke-width="1.85" fill="none"/>
<path d="M80.6 666.9V567.5M82.6 666.9V604.2M84.7 666.9V604.2M86.6 666.9V617.5M89.6 666.9V633.9M91.6 666.9V638.1M93.7 666.9V627.5M95.9 666.9V596.6M107.1 666.9V650.8M109.2 666.9V658.2M132.5 666.9V642.9M134.5 666.9V660.8M136.6 666.9V634.4M138.6 666.9V654.0M140.5 666.9V655.8M143.5 666.9V650.8M145.6 666.9V661.0M147.5 666.9V656.1M184.1 666.9V656.8M188.2 666.9V635.5M190.4 666.9V655.8M192.4 666.9V646.7M194.3 666.9V652.0M197.3 666.9V651.0M214.6 666.9V658.0M216.6 666.9V661.0M218.5 666.9V641.8M220.7 666.9V652.8M222.6 666.9V659.1M224.7 666.9V652.0M226.8 666.9V604.3M236.0 666.9V597.8M238.1 666.9V641.9M240.2 666.9V643.0M242.2 666.9V604.3M244.3 666.9V625.7M246.2 666.9V607.3M265.3 666.9V597.8M268.3 666.9V633.5M270.4 666.9V646.7M272.4 666.9V655.0M274.5 666.9V629.4M276.5 666.9V627.2M278.6 666.9V593.0M280.5 666.9V594.1M285.6 666.9V495.1M302.9 666.9V604.3M317.2 666.9V633.5M319.3 666.9V635.5M322.3 666.9V630.5M324.3 666.9V625.4M326.4 666.9V648.5M328.4 666.9V654.0M330.5 666.9V629.4M349.7 666.9V655.8M351.5 666.9V652.5M353.6 666.9V660.7M356.6 666.9V654.6M358.6 666.9V655.8M360.7 666.9V517.5M373.0 666.9V649.8M376.0 666.9V628.4M399.4 666.9V644.5M401.5 666.9V652.5M403.4 666.9V654.7M405.5 666.9V655.5M407.5 666.9V656.5M410.6 666.9V662.8M412.6 666.9V665.9M451.1 666.9V662.8M453.2 666.9V665.9M457.4 666.9V661.8M459.4 666.9V659.8M461.5 666.9V661.8M481.8 666.9V661.8M483.7 666.9V664.0M485.8 666.9V662.8M487.8 666.9V664.0M489.9 666.9V662.8M494.0 666.9V664.8M495.9 666.9V664.8M498.0 666.9V664.8M505.3 666.9V658.8M507.2 666.9V662.8M511.3 666.9V664.8M535.5 666.9V658.8M537.6 666.9V665.9M539.6 666.9V661.8M541.7 666.9V664.8M543.6 666.9V664.8M545.6 666.9V664.8M586.3 666.9V653.5M589.3 666.9V504.4M591.5 666.9V597.8M593.4 666.9V619.2M595.5 666.9V630.5M597.5 666.9V614.1M599.6 666.9V619.2M618.8 666.9V644.5M620.9 666.9V653.8M622.9 666.9V626.4M625.9 666.9V662.8M628.0 666.9V649.8M640.2 666.9V664.8M643.2 666.9V640.4M645.3 666.9V644.5M647.3 666.9V653.8M668.6 666.9V640.7M670.6 666.9V660.7M672.5 666.9V658.8M674.6 666.9V655.8M676.6 666.9V650.8M679.6 666.9V629.4M681.7 666.9V628.4M716.2 666.9V665.9M718.3 666.9V647.8M720.4 666.9V646.7M722.5 666.9V653.5M724.4 666.9V654.7M726.4 666.9V650.8M728.5 666.9V656.8M730.5 666.9V661.8M750.9 666.9V660.7M752.9 666.9V659.8M756.9 666.9V640.7M759.0 666.9V659.8M768.2 666.9V664.8M770.5 666.9V662.8M772.3 666.9V660.7M774.2 666.9V658.8M776.3 666.9V655.8M778.4 666.9V658.8M782.3 666.9V655.8M784.4 666.9V662.8M799.5 666.9V659.8M801.6 666.9V664.0M806.6 666.9V645.7M808.7 666.9V660.7M810.6 666.9V664.0M814.7 666.9V648.7M851.4 666.9V661.8M853.4 666.9V661.8M855.5 666.9V658.8M858.5 666.9V649.8M860.6 666.9V661.8M862.5 666.9V651.7M864.7 666.9V661.8" stroke="#46627f" stroke-width="2.1" stroke-opacity="0.18" fill="none"/>
<path d="M80.6 666.9V567.5M82.6 666.9V604.2M84.7 666.9V604.2M86.6 666.9V617.5M89.6 666.9V633.9M91.6 666.9V638.1M93.7 666.9V627.5M95.9 666.9V596.6M107.1 666.9V650.8M109.2 666.9V658.2M132.5 666.9V642.9M134.5 666.9V660.8M136.6 666.9V634.4M138.6 666.9V654.0M140.5 666.9V655.8M143.5 666.9V650.8M145.6 666.9V661.0M147.5 666.9V656.1M184.1 666.9V656.8M188.2 666.9V635.5M190.4 666.9V655.8M192.4 666.9V646.7M194.3 666.9V652.0M197.3 666.9V651.0M214.6 666.9V658.0M216.6 666.9V661.0M218.5 666.9V641.8M220.7 666.9V652.8M222.6 666.9V659.1M224.7 666.9V652.0M226.8 666.9V604.3M236.0 666.9V597.8M238.1 666.9V641.9M240.2 666.9V643.0M242.2 666.9V604.3M244.3 666.9V625.7M246.2 666.9V607.3M265.3 666.9V597.8M268.3 666.9V633.5M270.4 666.9V646.7M272.4 666.9V655.0M274.5 666.9V629.4M276.5 666.9V627.2M278.6 666.9V593.0M280.5 666.9V594.1M285.6 666.9V495.1M302.9 666.9V604.3M317.2 666.9V633.5M319.3 666.9V635.5M322.3 666.9V630.5M324.3 666.9V625.4M326.4 666.9V648.5M328.4 666.9V654.0M330.5 666.9V629.4M349.7 666.9V655.8M351.5 666.9V652.5M353.6 666.9V660.7M356.6 666.9V654.6M358.6 666.9V655.8M360.7 666.9V517.5M373.0 666.9V649.8M376.0 666.9V628.4M399.4 666.9V644.5M401.5 666.9V652.5M403.4 666.9V654.7M405.5 666.9V655.5M407.5 666.9V656.5M410.6 666.9V662.8M412.6 666.9V665.9M451.1 666.9V662.8M453.2 666.9V665.9M457.4 666.9V661.8M459.4 666.9V659.8M461.5 666.9V661.8M481.8 666.9V661.8M483.7 666.9V664.0M485.8 666.9V662.8M487.8 666.9V664.0M489.9 666.9V662.8M494.0 666.9V664.8M495.9 666.9V664.8M498.0 666.9V664.8M505.3 666.9V658.8M507.2 666.9V662.8M511.3 666.9V664.8M535.5 666.9V658.8M537.6 666.9V665.9M539.6 666.9V661.8M541.7 666.9V664.8M543.6 666.9V664.8M545.6 666.9V664.8M586.3 666.9V653.5M589.3 666.9V504.4M591.5 666.9V597.8M593.4 666.9V619.2M595.5 666.9V630.5M597.5 666.9V614.1M599.6 666.9V619.2M618.8 666.9V644.5M620.9 666.9V653.8M622.9 666.9V626.4M625.9 666.9V662.8M628.0 666.9V649.8M640.2 666.9V664.8M643.2 666.9V640.4M645.3 666.9V644.5M647.3 666.9V653.8M668.6 666.9V640.7M670.6 666.9V660.7M672.5 666.9V658.8M674.6 666.9V655.8M676.6 666.9V650.8M679.6 666.9V629.4M681.7 666.9V628.4M716.2 666.9V665.9M718.3 666.9V647.8M720.4 666.9V646.7M722.5 666.9V653.5M724.4 666.9V654.7M726.4 666.9V650.8M728.5 666.9V656.8M730.5 666.9V661.8M750.9 666.9V660.7M752.9 666.9V659.8M756.9 666.9V640.7M759.0 666.9V659.8M768.2 666.9V664.8M770.5 666.9V662.8M772.3 666.9V660.7M774.2 666.9V658.8M776.3 666.9V655.8M778.4 666.9V658.8M782.3 666.9V655.8M784.4 666.9V662.8M799.5 666.9V659.8M801.6 666.9V664.0M806.6 666.9V645.7M808.7 666.9V660.7M810.6 666.9V664.0M814.7 666.9V648.7M851.4 666.9V661.8M853.4 666.9V661.8M855.5 666.9V658.8M858.5 666.9V649.8M860.6 666.9V661.8M862.5 666.9V651.7M864.7 666.9V661.8" stroke="#2d4d71" stroke-width="1.15" fill="none"/>
<polyline points="69.8,564.9 72.3,562.6 74.8,560.5 76.9,560.3 78.9,563.0 81.0,567.9 83.0,569.5 84.9,568.7 87.0,570.3 89.5,572.0 92.0,573.9 95.2,574.4 99.3,574.9 103.4,574.9 104.6,576.1 106.7,574.8 110.0,574.8 112.5,576.4 114.9,575.6 125.6,575.6 133.0,575.6 135.4,576.9 137.9,577.7 139.5,576.4 142.8,575.6 146.9,575.7 150.2,576.7 154.3,576.7 157.5,575.4 160.3,574.4 162.5,575.2 165.7,575.7 170.0,576.9 185.0,579.2 188.9,579.8 193.7,580.2 198.6,579.8 202.4,577.8 206.3,576.9 209.2,575.5 212.1,576.5 217.9,576.5 220.8,574.9 222.8,575.3 226.7,572.6 231.5,570.1 236.3,567.8 241.2,567.2 244.1,565.8 248.0,562.9 252.8,562.3 255.7,558.5 257.7,556.5 261.5,556.1 263.5,554.6 268.3,553.2 274.1,552.7 279.9,551.7 281.9,547.8 284.8,542.0 287.7,537.7 289.2,537.2 291.2,539.7 294.5,541.0 297.4,543.5 301.2,545.9 306.1,547.2 310.9,547.2 311.8,546.7 313.6,547.1 316.4,546.7 320.0,548.9 323.6,546.5 327.3,547.6 330.9,545.6 333.6,543.1 336.9,545.6 340.0,544.9 343.6,543.1 346.4,544.4 351.8,544.4 358.7,544.4 360.0,538.0 361.3,535.8 364.5,535.8 368.2,534.7 370.9,529.8 373.6,527.1 376.4,525.3 379.1,524.4 381.8,520.7 384.5,517.1 387.3,511.6 389.6,508.0 391.8,506.2 394.5,505.3 398.2,504.4 401.8,501.3 405.5,500.7 408.2,498.9 413.6,498.9 420.9,498.9 424.5,497.6 426.7,496.5 429.1,497.6 435.5,497.6 440.9,500.2 443.6,498.9 456.4,498.5 467.3,497.6 470.9,496.5 474.5,497.6 478.2,497.6 481.8,496.5 494.5,496.5 512.7,496.5 522.7,496.5 525.5,495.6 528.2,495.6 530.5,493.8 541.8,493.8 551.8,493.8 554.5,494.9 558.2,493.8 570.9,493.8 583.6,493.8 585.8,495.3 588.2,498.9 590.9,500.2 593.6,501.3 595.5,500.5 598.2,502.0 599.1,502.5 604.5,503.5 608.2,504.4 612.7,504.0 615.5,505.3 619.1,505.3 622.7,506.7 628.2,507.1 633.6,508.4 639.1,509.3 642.7,508.9 645.5,506.7 648.2,508.0 652.7,508.0 657.3,506.2 662.7,504.9 670.0,504.9 676.4,504.9 680.0,502.5 682.7,504.0 688.2,505.8 694.5,506.2 699.1,507.1 704.5,507.1 709.1,508.4 711.8,510.2 715.5,508.5 718.2,507.6 720.9,508.9 724.2,507.6 726.4,509.8 729.1,508.9 733.6,509.3 737.3,510.4 743.6,510.2 746.4,511.1 754.5,511.1 757.6,512.2 760.9,511.1 767.3,511.1 770.0,512.0 772.7,511.1 775.5,510.2 794.5,510.2 803.6,510.2 806.4,508.9 809.1,510.2 821.8,510.2 840.9,510.2 843.6,511.1 850.9,511.1 854.5,512.0 858.2,512.9 864.5,512.9 866.7,514.0 868.5,515.8 870.5,514.9 873.6,516.2 877.3,517.1" fill="none" stroke="#ffa34a" stroke-width="1.45" stroke-linejoin="round" stroke-linecap="round"/>
<polyline points="69.8,309.0 71.0,320.9 72.6,328.1 74.5,324.5 77.4,315.0 79.3,304.2 81.7,294.7 85.3,285.1 88.8,279.2 92.4,273.2 94.8,267.3 98.4,263.7 103.2,261.8 109.1,260.1 117.5,258.4 127.0,257.0 136.5,255.3 146.1,254.4 155.6,253.9 165.1,254.2 174.7,254.6 184.2,255.3 193.8,256.1 203.3,257.0 212.8,258.0 215.0,258.6 224.5,260.3 229.3,262.7 238.8,267.4 250.8,274.6 262.7,278.6 272.2,282.4 278.2,286.5 281.8,292.5 285.3,300.8 288.9,305.6 293.7,309.2 298.5,309.9 310.4,311.1 322.3,312.3 334.2,313.2 348.5,313.9 358.1,314.4 365.2,317.5 370.0,320.0 379.5,322.4 391.5,324.8 405.8,326.7 422.5,328.8 439.2,330.7 458.2,331.4 477.3,332.6 503.5,333.8 522.6,334.3 527.2,334.8 534.3,337.2 548.6,337.9 567.7,338.6 579.6,339.1 589.2,340.7 605.8,342.2 627.3,343.4 648.8,345.0 667.8,346.2 670.0,346.5 684.3,348.2 698.6,348.9 712.9,349.6 727.2,350.6 746.3,350.8 765.4,351.0 784.5,351.3 803.5,351.3 817.8,351.5 824.6,351.5 826.1,352.6 878.2,352.6" fill="none" stroke="#ffa34a" stroke-width="1.45" stroke-linejoin="round" stroke-linecap="round"/>
<polyline points="69.8,282.8 72.2,294.7 74.1,295.9 76.4,274.4 77.6,280.4 79.3,266.1 80.7,256.5 81.7,264.9 83.6,236.3 84.6,226.7 86.5,223.2 88.8,232.7 90.3,236.3 92.4,223.2 94.1,208.8 95.5,196.4 96.7,202.9 97.9,210.0 99.6,208.8 102.0,213.6 104.3,217.2 107.9,214.8 109.6,219.6 111.5,233.9 113.4,247.5 115.1,241.0 116.7,233.9 118.7,238.7 120.6,242.9 122.9,238.7 125.8,229.1 127.5,225.5 129.4,227.9 131.8,220.8 134.6,216.0 137.7,214.1 140.8,214.3 143.2,217.2 146.1,223.2 148.9,229.1 150.8,231.5 153.2,229.1 155.6,226.7 157.0,236.3 158.0,261.3 159.9,256.5 161.6,250.6 163.2,253.0 165.1,261.3 167.5,267.3 169.2,256.5 171.1,249.4 174.2,247.5 176.6,251.8 179.5,256.5 181.8,262.5 184.2,258.9 186.1,257.7 187.8,263.7 190.9,269.6 192.6,268.5 195.0,262.5 197.3,260.1 199.2,257.7 201.4,264.9 203.3,267.3 205.7,276.8 207.6,281.6 209.7,275.6 211.6,267.3 214.0,270.8 215.0,272.2 217.4,273.4 219.8,277.0 222.2,275.8 224.5,273.4 225.7,285.3 228.1,298.4 229.8,291.3 231.7,284.1 233.6,291.3 236.0,304.4 238.8,304.4 241.2,310.3 243.6,319.9 246.5,327.0 248.9,334.2 250.8,343.7 252.7,334.2 254.3,331.8 256.7,329.4 259.1,323.5 261.0,330.6 263.4,336.6 265.8,333.0 268.7,330.1 271.5,332.5 274.1,334.2 275.8,342.5 278.2,353.3 281.1,365.2 283.0,380.7 284.8,399.6 286.0,418.7 287.2,429.4 288.4,416.3 289.4,399.6 290.6,375.8 292.0,354.3 292.5,342.5 294.4,325.8 296.1,313.9 297.7,309.2 299.6,316.3 302.0,317.5 303.7,321.1 305.1,328.2 306.3,316.3 308.0,314.4 309.7,319.9 311.1,327.0 313.2,325.8 315.6,323.5 317.5,321.1 319.2,331.8 321.6,341.3 323.7,335.4 325.4,337.8 327.5,344.9 329.5,351.6 331.4,349.7 333.0,340.1 334.9,321.1 336.6,311.5 339.0,308.4 341.4,311.1 343.3,309.2 345.7,311.5 347.3,309.6 349.7,310.3 351.4,323.5 353.3,318.7 355.2,328.2 358.1,337.8 359.5,356.8 359.7,361.5 360.7,406.8 361.6,394.8 362.6,384.1 364.0,391.3 366.4,404.4 368.8,400.8 371.1,408.0 372.4,413.0 375.2,410.6 377.6,409.4 380.0,405.8 382.4,410.1 384.3,412.5 386.2,408.2 387.9,402.7 390.3,403.5 393.1,398.2 395.0,405.8 397.4,407.0 399.8,417.8 402.2,424.2 404.6,420.1 407.0,414.2 408.9,409.4 411.0,404.2 413.4,407.0 415.3,414.2 417.0,422.5 419.4,419.0 422.0,416.1 423.7,422.5 425.3,434.5 427.7,441.6 429.6,447.6 431.5,438.0 433.7,438.5 435.6,440.9 437.5,434.5 440.3,432.1 443.9,429.7 446.3,433.3 449.9,436.8 453.0,437.3 455.4,433.3 457.7,429.2 460.1,430.9 464.2,429.7 467.8,429.2 472.5,429.7 474.9,432.5 477.3,434.5 480.2,432.1 482.5,433.3 484.9,436.8 487.3,435.6 490.4,438.0 494.0,439.2 497.6,439.9 500.7,442.8 503.5,446.4 505.2,450.0 506.6,441.6 508.3,438.0 510.7,444.0 512.6,443.5 514.7,446.4 517.4,444.0 520.0,444.0 522.4,444.5 524.8,448.8 527.2,453.5 529.1,463.1 530.3,470.2 531.9,463.1 533.8,454.7 535.5,449.5 537.2,454.7 539.1,451.9 541.0,453.5 543.4,449.5 546.2,448.8 549.8,448.8 552.2,448.3 553.4,436.8 555.1,423.7 557.0,428.5 558.2,435.6 560.1,439.2 562.4,441.6 565.3,439.2 567.7,436.8 571.3,436.8 574.8,436.4 577.7,434.0 579.6,436.8 581.5,440.4 583.2,438.0 584.9,441.6 586.1,444.5 587.0,427.3 588.0,403.5 588.7,379.6 589.4,367.7 590.8,376.0 592.7,370.1 594.4,355.8 595.8,349.8 597.3,347.4 598.2,358.2 599.6,371.3 601.5,365.3 603.5,360.5 605.8,358.2 608.2,359.3 610.1,364.1 611.8,373.7 613.5,379.6 614.9,374.8 616.6,372.0 617.8,379.6 619.4,386.8 621.3,385.6 623.2,391.5 625.4,397.5 627.8,403.5 630.2,402.3 632.1,396.3 634.0,389.2 636.1,384.4 638.5,383.9 640.9,386.8 642.8,383.9 644.7,389.2 646.9,388.0 648.8,389.2 650.7,396.3 652.3,403.5 654.7,410.1 656.4,404.6 657.6,401.1 659.0,409.4 660.7,407.0 662.6,401.1 664.3,397.5 665.9,405.8 667.1,408.7 669.0,399.9 670.0,394.2 672.4,395.4 674.8,400.1 677.2,406.1 679.5,410.4 683.1,407.8 685.5,397.8 687.9,393.0 690.3,388.2 691.9,387.7 693.8,382.3 695.8,377.5 696.9,374.4 698.6,379.9 700.5,385.8 702.7,382.3 704.6,383.5 705.8,378.7 707.0,374.4 708.6,379.9 710.5,387.0 712.9,389.4 715.8,391.3 717.7,382.3 719.4,376.3 721.3,371.5 722.9,366.8 724.4,360.8 726.0,368.0 727.9,365.6 729.6,371.1 731.3,372.7 733.7,368.7 735.1,375.1 736.8,366.8 738.0,363.2 739.6,368.0 741.1,376.3 742.7,371.5 744.4,378.7 746.3,376.3 748.0,381.1 749.9,382.3 752.3,384.6 753.9,388.2 755.4,395.4 756.6,404.2 757.7,394.2 759.4,391.1 761.8,388.7 764.7,385.8 767.8,388.7 771.3,389.4 774.2,388.7 776.8,385.4 779.7,383.5 781.4,381.5 783.3,383.5 785.6,381.1 788.5,381.1 791.1,383.9 793.5,388.7 795.7,391.8 797.1,393.7 798.8,388.7 800.7,386.3 801.9,388.2 804.0,383.9 806.4,381.5 809.5,381.1 811.9,380.0 813.1,375.4 814.2,367.9 815.4,370.9 816.4,374.2 817.9,372.4 820.1,367.9 822.4,365.7 826.8,365.5 831.3,365.5 833.1,367.9 834.6,370.9 835.8,370.9 837.3,367.2 838.5,365.7 839.5,367.9 840.7,370.6 841.7,365.7 843.2,362.7 847.7,362.4 853.2,362.4 854.1,357.5 854.8,353.0 855.6,350.8 856.6,353.0 858.1,355.3 859.3,352.3 860.5,349.3 862.3,347.4 866.3,347.1 868.3,344.8 870.3,342.3 873.0,337.4 875.3,332.9 877.0,330.2" fill="none" stroke="#304e6e" stroke-width="1.2" stroke-linejoin="round" stroke-linecap="round"/>
<rect x="195.6" y="513.3" width="96.4" height="83.8" fill="none" stroke="#f31cf3" stroke-width="3"/>
<polygon points="151.7,241.4 169.4,265.7 179.5,279.3 190.2,293.8 205.0,313.9 215.8,328.3 224.3,339.5 232.2,349.9 246.8,370.1 280.8,417.0 284.3,414.5 286.6,431.9 270.9,424.0 274.5,421.5 241.3,374.0 226.9,353.6 219.7,342.8 212.0,331.1 201.9,316.1 187.8,295.5 177.6,280.7 168.0,266.6 150.9,242.0" fill="#f31cf3"/>
</svg>
</body></html>
